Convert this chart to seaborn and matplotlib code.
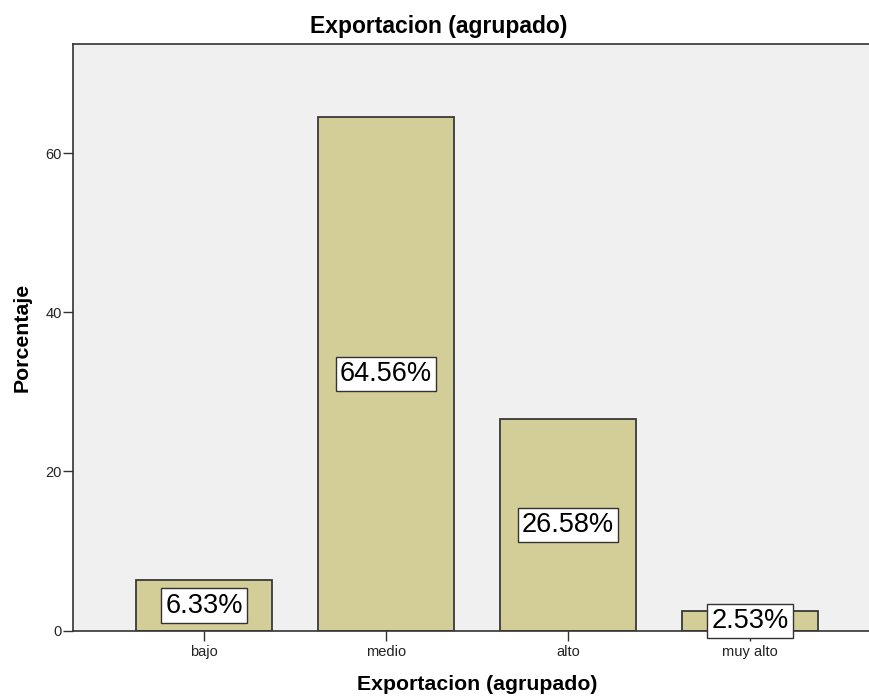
import seaborn as sns
import matplotlib.pyplot as plt
import pandas as pd

categories = ["bajo", "medio", "alto", "muy alto"]
percentages = [6.33, 64.56, 26.58, 2.53]
value_labels = ["6.33%", "64.56%", "26.58%", "2.53%"]

df = pd.DataFrame({"categoria": categories, "porcentaje": percentages})

sns.set_style("white")
plt.rcParams["font.family"] = ["Liberation Sans", "DejaVu Sans"]

fig = plt.figure(figsize=(8.69, 6.97), dpi=100)
ax = fig.add_axes([0.084, 0.0951, 0.916, 0.8418])
ax.set_facecolor("#F0F0F0")

sns.barplot(data=df, x="categoria", y="porcentaje", color="#D3CE97",
            saturation=1, width=0.747, edgecolor="#3a3a3a", linewidth=1.3, ax=ax)

# etiquetas de porcentaje en el centro de cada barra
for i, (v, lab) in enumerate(zip(percentages, value_labels)):
    ax.text(i, v / 2, lab, ha="center", va="center", fontsize=19.5, color="black",
            zorder=5,
            bbox=dict(boxstyle="square,pad=0.15", facecolor="white",
                      edgecolor="#333333", linewidth=1))

ax.set_xlim(-0.72, 3.654)
ax.set_ylim(0, 73.7)
ax.set_yticks([0, 20, 40, 60])
ax.tick_params(axis="both", which="major", bottom=True, left=True,
               direction="out", length=7, width=1, color="#333333",
               labelsize=10.5, labelcolor="#222222", pad=1)
ax.tick_params(axis="x", pad=3)

for side in ["left", "top", "bottom"]:
    ax.spines[side].set_color("#333333")
    ax.spines[side].set_linewidth(1.2)
ax.spines["right"].set_visible(False)

fig.text(439 / 869, 1 - 27 / 697, "Exportacion (agrupado)", ha="center",
         va="center", fontsize=16.5, fontweight="bold", color="black")

ax.set_xlabel("Exportacion (agrupado)", fontsize=15.3, fontweight="bold",
              color="black")
ax.xaxis.label.set_verticalalignment("center")
ax.xaxis.set_label_coords(0.5075, -0.0925)
ax.set_ylabel("Porcentaje", fontsize=15.3, fontweight="bold", color="black")
ax.yaxis.label.set_verticalalignment("center")
ax.yaxis.set_label_coords(-0.064, 0.5)

fig.savefig("out.png", dpi=100)
